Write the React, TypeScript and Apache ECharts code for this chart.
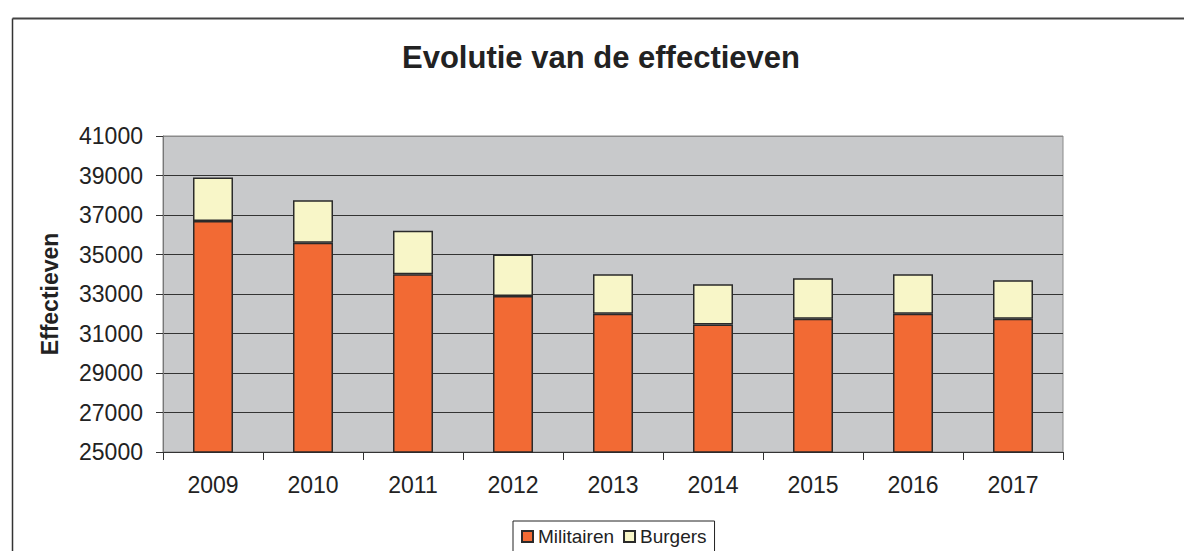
import React, { useEffect, useRef } from "react";
import * as echarts from "echarts";

const years = ["2009", "2010", "2011", "2012", "2013", "2014", "2015", "2016", "2017"];
const militairen = [36700, 35600, 34000, 32900, 32000, 31450, 31750, 32000, 31750];
const burgers = [2200, 2150, 2200, 2100, 2000, 2050, 2050, 2000, 1950];
const titleText = "Evolutie van de effectieven";
const yAxisName = "Effectieven";
const seriesNames = ["Militairen", "Burgers"];

const FONT = "'Liberation Sans', Arial, sans-serif";

export default function App() {
  const ref = useRef<HTMLDivElement>(null);
  useEffect(() => {
    if (!ref.current) return;
    const chart = echarts.init(ref.current, undefined, { renderer: "svg" });
    const gridColors = ["#333", "#333", "#333", "#333", "#333", "#333", "#333", "#333", "#8a8a8a"];
    chart.setOption({
      animation: false,
      backgroundColor: "#ffffff",
      textStyle: { fontFamily: FONT },
      title: {
        text: titleText,
        left: 402,
        top: 42,
        padding: 0,
        textStyle: { fontFamily: FONT, fontSize: 31, fontWeight: "bold", color: "#222" },
      },
      legend: {
        left: 513,
        top: 521,
        padding: [6, 8, 6, 8],
        itemGap: 9,
        itemWidth: 11,
        itemHeight: 11,
        borderColor: "#222",
        borderWidth: 1,
        icon: "rect",
        textStyle: { fontFamily: FONT, fontSize: 19, color: "#222" },
        data: seriesNames,
      },
      grid: {
        left: 163,
        top: 136,
        right: 121,
        bottom: 99,
        show: true,
        backgroundColor: "#C8C9CB",
        borderColor: "#8a8a8a",
        borderWidth: 1,
        containLabel: false,
      },
      xAxis: {
        type: "category",
        data: years,
        axisLine: { show: true, lineStyle: { color: "#333", width: 1 } },
        axisTick: { show: true, length: 8, lineStyle: { color: "#333" } },
        axisLabel: { fontFamily: FONT, fontSize: 23, color: "#222", margin: 21 },
        splitLine: { show: false },
      },
      yAxis: {
        type: "value",
        min: 25000,
        max: 41000,
        interval: 2000,
        name: yAxisName,
        nameLocation: "middle",
        nameRotate: 90,
        nameGap: 102,
        nameTextStyle: { fontFamily: FONT, fontSize: 23, fontWeight: "bold", color: "#222" },
        axisLine: { show: true, lineStyle: { color: "#777", width: 1 } },
        axisTick: { show: true, length: 7, lineStyle: { color: "#333" } },
        axisLabel: {
          fontFamily: FONT,
          fontSize: 23,
          color: "#222",
          margin: 20,
          formatter: (v: number) => String(v),
        },
        splitLine: { show: true, lineStyle: { color: gridColors, width: 1 } },
      },
      graphic: [
        { type: "line", shape: { x1: 12.5, y1: 18.5, x2: 1184, y2: 18.5 }, style: { stroke: "#444", lineWidth: 2 } },
        { type: "line", shape: { x1: 12.5, y1: 18.5, x2: 12.5, y2: 551 }, style: { stroke: "#333", lineWidth: 1.5 } },
      ],
      series: [
        {
          name: seriesNames[0],
          type: "bar",
          stack: "total",
          data: militairen,
          barWidth: "40%",
          itemStyle: { color: "#F26A34", borderColor: "#2a2a2a", borderWidth: 1.5 },
        },
        {
          name: seriesNames[1],
          type: "bar",
          stack: "total",
          data: burgers,
          barWidth: "40%",
          itemStyle: { color: "#F8F6C8", borderColor: "#2a2a2a", borderWidth: 1.5 },
        },
      ],
    });
    return () => chart.dispose();
  }, []);
  return (
    <div
      ref={ref}
      style={{ position: "absolute", left: 0, top: 0, width: 1184, height: 551 }}
    />
  );
}
